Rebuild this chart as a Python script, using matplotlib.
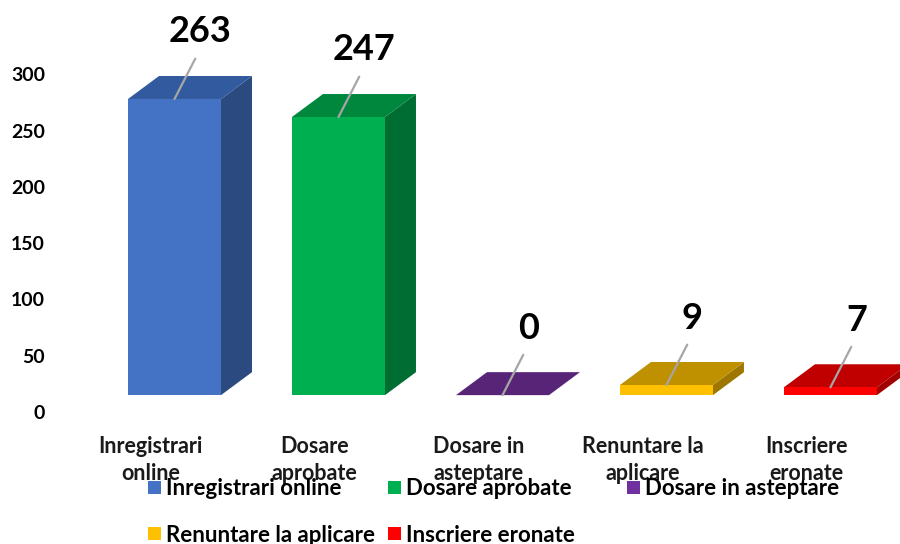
import matplotlib
matplotlib.use("Agg")
import matplotlib.pyplot as plt
from matplotlib.patches import Patch

plt.rcParams['font.family'] = ['Lato', 'DejaVu Sans']

categories = ['Inregistrari online', 'Dosare aprobate', 'Dosare in asteptare',
              'Renuntare la aplicare', 'Inscriere eronate']
tick_names = ['Inregistrari\nonline', 'Dosare\naprobate', 'Dosare in\nasteptare',
              'Renuntare la\naplicare', 'Inscriere\neronate']
values = [263, 247, 0, 9, 7]
yticks = [0, 50, 100, 150, 200, 250, 300]

front_col = ['#4472C4', '#00B050', '#7030A0', '#FFC000', '#FF0000']
top_col = ['#325A9E', '#00873E', '#582478', '#BF9000', '#C00000']
side_col = ['#2A4A80', '#006E33', '#46205E', '#9E7700', '#A00000']

# fake 3d look
width = 0.567
depth_x = 0.189
depth_y = 20.4
base = 15

fig = plt.figure(figsize=(9, 5.44), dpi=100)
ax = fig.add_axes([52/900, 0, 1 - 52/900, 1])
ax.set_xlim(-0.747, 4.424)
ax.set_ylim(-117.2, 365.9)

for i, v in enumerate(values):
    l = i - width/2
    r = i + width/2
    b = base
    t = base + v
    # side face
    ax.fill([r, r + depth_x, r + depth_x, r], [b, b + depth_y, t + depth_y, t],
            color=side_col[i], lw=0)
    # top face
    ax.fill([l, l + depth_x, r + depth_x, r], [t, t + depth_y, t + depth_y, t],
            color=top_col[i], lw=0)
    # front face
    ax.bar(i, v, width=width, bottom=base, color=front_col[i], lw=0)

    ax.annotate(str(v), xy=(i, t), xytext=(26, 67), textcoords='offset pixels',
                ha='center', va='center', fontsize=26, fontweight='bold',
                arrowprops=dict(arrowstyle='-', color='#A6A6A6', lw=1.6,
                                relpos=(0.5, 0), shrinkA=6, shrinkB=0))

    ax.annotate(tick_names[i], xy=(i, 0), xytext=(-24, -48), textcoords='offset pixels',
                ha='center', va='center', fontsize=15.5, fontweight='bold',
                linespacing=1.4, color='#1a1a1a')

ax.set_yticks(yticks)
ax.set_yticklabels([str(y) for y in yticks], fontsize=14, fontweight='bold')
ax.tick_params(axis='y', length=0, pad=5)
ax.set_xticks([])
for s in ax.spines.values():
    s.set_visible(False)

# legend in 3 columns like excel
handles = [Patch(facecolor=c) for c in front_col]
columns = [[0, 3], [1, 4], [2]]
col_x = [148, 388, 627]
for cx, idx in zip(col_x, columns):
    fig.legend([handles[k] for k in idx], [categories[k] for k in idx],
               loc='upper left', bbox_to_anchor=(cx/900, 1 - 478/544),
               frameon=False, borderpad=0, borderaxespad=0,
               handlelength=0.58, handleheight=0.54, handletextpad=0.22,
               labelspacing=1.15, prop={'size': 16, 'weight': 'bold'})

fig.savefig('out.png', dpi=100)
